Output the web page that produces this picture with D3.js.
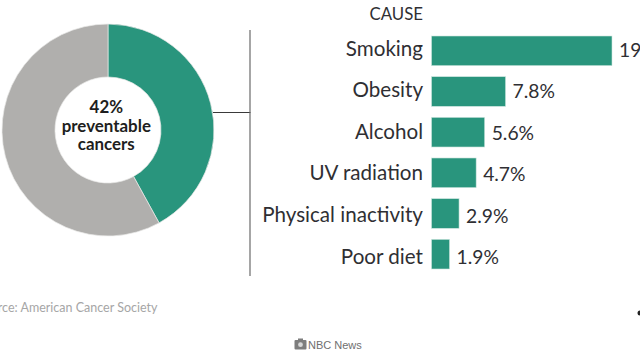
<!DOCTYPE html>
<html><head><meta charset="utf-8">
<script src="https://cdnjs.cloudflare.com/ajax/libs/d3/7.8.5/d3.min.js"></script>
<style>
html,body{margin:0;padding:0;background:#fff;overflow:hidden}
svg{display:block}
text{font-family:Lato,"Open Sans",sans-serif}
</style></head><body>
<svg id="c" width="640" height="360"></svg>
<script>
const causes = ["Smoking","Obesity","Alcohol","UV radiation","Physical inactivity","Poor diet"];
const causeValues = [19,7.8,5.6,4.7,2.9,1.9];
const causeLabels = ["19%","7.8%","5.6%","4.7%","2.9%","1.9%"];
const shareNames = ["preventable","other"];
const shareValues = [42,58];
const centerLines = ["42%","preventable","cancers"];

const green="#29957d", grey="#b0afad", ink="#2f2f33";
const svg=d3.select("#c");

// donut
const pie=d3.pie().sort(null).value(d=>d)(shareValues);
const arc=d3.arc().innerRadius(53).outerRadius(106);
const donut=svg.append("g").attr("transform","translate(108,130)");
donut.selectAll("path").data(pie).join("path")
  .attr("d",arc).attr("fill",(d,i)=>i==0?green:grey)
  .attr("stroke","#e8e8e6").attr("stroke-width",0.7);
donut.selectAll("text").data(centerLines).join("text")
  .attr("text-anchor","middle").attr("x",-1.7).attr("y",(d,i)=>-17+i*18.5)
  .attr("font-size",16.9).attr("font-weight",700).attr("fill","#1e1e20")
  .text(d=>d);

// connector
svg.append("line").attr("x1",213).attr("x2",250.5).attr("y1",112.5).attr("y2",112.5).attr("stroke","#3a3a3a");
svg.append("line").attr("x1",250).attr("x2",250).attr("y1",30).attr("y2",276).attr("stroke","#6a6a6a").attr("stroke-width",1.2);

// bars
const x=d3.scaleLinear().domain([0,19]).range([431.5,612]);
const y=d3.scaleBand().domain(causes).range([36,269]).paddingInner(0.27).paddingOuter(0);
svg.selectAll("rect.bar").data(causes).join("rect").attr("class","bar")
  .attr("x",x(0)).attr("y",d=>y(d))
  .attr("width",(d,i)=>x(causeValues[i])-x(0)).attr("height",y.bandwidth())
  .attr("fill",green).attr("stroke","#cfe6df").attr("stroke-width",0.6);
// text rows sit on their own baselines, a little more widely spaced than the bars
const labelY=d3.scalePoint().domain(causes).range([55,263]);
const valueY=d3.scalePoint().domain(causes).range([57,264]);
const axis=d3.axisLeft(labelY).tickSize(0).tickPadding(0);
const ag=svg.append("g").attr("transform","translate(423,0)").call(axis);
ag.select(".domain").remove();
ag.selectAll("text").attr("font-size",20.6).attr("fill",ink).attr("dy",0).style("font-family","Lato,sans-serif");
svg.selectAll("text.val").data(causes).join("text").attr("class","val")
  .attr("x",(d,i)=>x(causeValues[i])+7).attr("y",d=>valueY(d))
  .attr("font-size",19.3).attr("fill",ink).text((d,i)=>causeLabels[i]);
svg.append("text").attr("x",423).attr("y",20).attr("text-anchor","end").attr("font-size",16.8).attr("fill",ink).text("CAUSE");

// footer
svg.append("text").attr("x",-23).attr("y",312).attr("font-size",12.5).attr("fill","#a6a6a6").text("Source: American Cancer Society");
svg.append("circle").attr("cx",640).attr("cy",313).attr("r",2.5).attr("fill","#222");
const cam=svg.append("g").attr("fill","#7d7d7d");
cam.append("rect").attr("x",294.5).attr("y",340).attr("width",12).attr("height",9.5).attr("rx",1);
cam.append("rect").attr("x",298).attr("y",338.5).attr("width",5).attr("height",2);
svg.append("circle").attr("cx",300.5).attr("cy",344.7).attr("r",2.4).attr("fill","#d8d8d8");
svg.append("text").attr("x",308).attr("y",349).attr("font-size",11).attr("fill","#6f6f6f").style("font-family","'Liberation Sans',Arial,sans-serif").text("NBC News");
</script></body></html>
